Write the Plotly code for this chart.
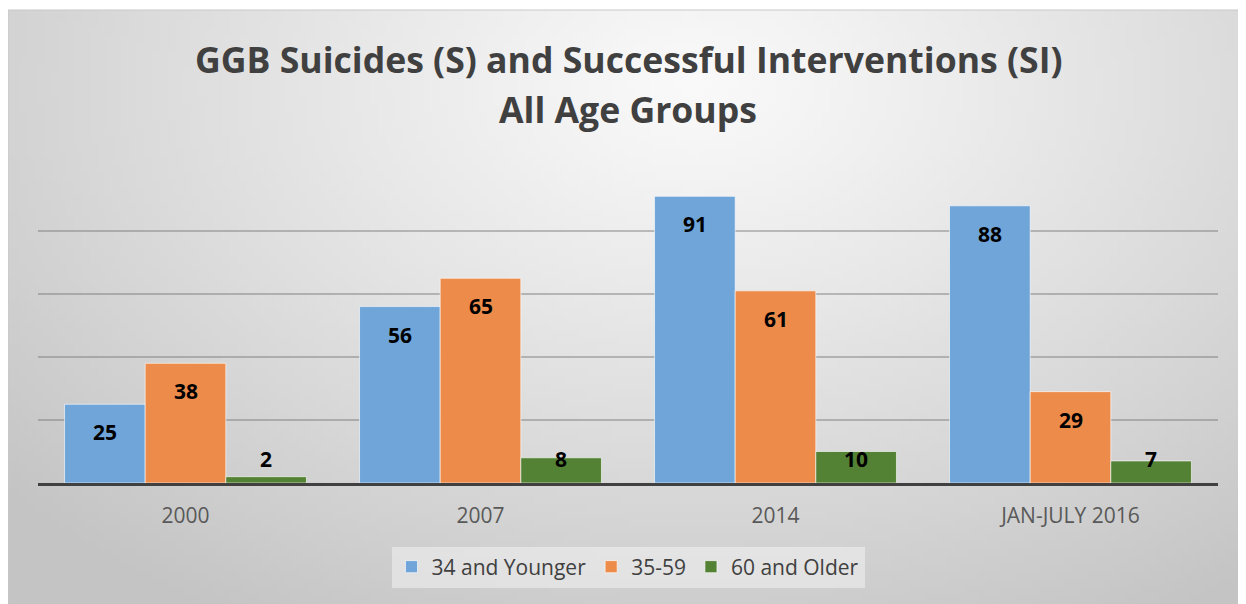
import base64, struct, zlib
import numpy as np
import plotly.graph_objects as go

# ---------------- data ----------------
categories = ["2000", "2007", "2014", "JAN-JULY 2016"]
series_names = ["34 and Younger", "35-59", "60 and Older"]
young = [25, 56, 91, 88]
middle = [38, 65, 61, 29]
older = [2, 8, 10, 7]
series_values = [young, middle, older]

# ---------------- style ----------------
W, H = 1246, 604
OFF = 8                                   # page offset of the figure (body margin)
colors = ["#6fa5d8", "#ed8b4b", "#548235"]
PL, PR, PT, PB = 38 - OFF, 1218 - OFF, 168 - OFF, 483 - OFF   # plot area (figure px)
BARGAP = 0.18


def gradient_png(w=160, h=80):
    xs = np.linspace(0, 1, w)
    ys = np.linspace(0, 1, h)
    X, Y = np.meshgrid(xs, ys)
    d = np.sqrt(((X - 0.55) / 0.75) ** 2 + ((Y - 0.12) / 1.05) ** 2)
    d = np.clip(d, 0, 1)
    v = 250 - (250 - 196) * d ** 1.1
    img = v.astype(np.uint8)
    raw = b"".join(b"\x00" + img[r].tobytes() for r in range(h))

    def chunk(t, data):
        c = struct.pack(">I", len(data)) + t + data
        return c + struct.pack(">I", zlib.crc32(t + data) & 0xFFFFFFFF)

    png = b"\x89PNG\r\n\x1a\n" + chunk(b"IHDR", struct.pack(">IIBBBBB", w, h, 8, 0, 0, 0, 0))
    png += chunk(b"IDAT", zlib.compress(raw, 9)) + chunk(b"IEND", b"")
    return "data:image/png;base64," + base64.b64encode(png).decode()


def px2paper_x(px):
    return (px - PL) / (PR - PL)


def px2paper_y(py):
    return (PB - py) / (PB - PT)


fig = go.Figure()
for name, vals, col in zip(series_names, series_values, colors):
    fig.add_trace(go.Bar(
        name=name, x=categories, y=vals,
        marker=dict(color=col, line=dict(color="rgba(255,255,255,0.6)", width=1)),
        hoverinfo="x+y+name",
    ))

# data labels
bw = (1 - BARGAP) / len(series_names)
label_font = dict(family="Open Sans", size=21, color="#000000", weight="bold")
annotations = []
for si, vals in enumerate(series_values):
    off = (si - (len(series_names) - 1) / 2) * bw
    for ci, v in enumerate(vals):
        if si < 2:
            annotations.append(dict(x=ci + off, y=v, yshift=-28, text=str(v),
                                    xref="x", yref="y", showarrow=False, font=label_font))
        else:
            annotations.append(dict(x=ci + off, y=0, yshift=24, text=str(v),
                                    xref="x", yref="y", showarrow=False, font=label_font))

# title lines
title_font = dict(family="Open Sans", size=35.6, color="#404040")
annotations.append(dict(x=0.5, xref="paper", y=px2paper_y(59 - OFF), yref="paper", yanchor="middle",
                        showarrow=False,
                        text="<b>GGB Suicides (S) and Successful Interventions (SI)</b>",
                        font=title_font))
annotations.append(dict(x=0.5, xref="paper", y=px2paper_y(109 - OFF), yref="paper", yanchor="middle",
                        showarrow=False, text="<b>All Age Groups</b>", font=title_font))

fig.update_layout(
    width=W, height=H,
    margin=dict(l=PL, r=W - PR, t=PT, b=H - PB),
    paper_bgcolor="white",
    plot_bgcolor="rgba(0,0,0,0)",
    barmode="group", bargap=BARGAP, bargroupgap=0,
    showlegend=True,
    legend=dict(orientation="h", x=px2paper_x(628 - OFF), xanchor="center",
                y=px2paper_y(567 - OFF), yanchor="middle",
                bgcolor="rgba(242,242,242,0.55)", borderwidth=0,
                font=dict(family="Open Sans", size=21, color="#404040"),
                itemwidth=30, tracegroupgap=0),
    xaxis=dict(showgrid=False, showline=True, linecolor="#404040", linewidth=3,
               ticks="outside", ticklen=12, tickcolor="rgba(0,0,0,0)",
               tickfont=dict(family="Open Sans", size=21, color="#595959")),
    yaxis=dict(range=[0, 100], showgrid=True, gridcolor="rgba(120,120,120,0.45)", gridwidth=1.5,
               tickvals=[20, 40, 60, 80, 100], showticklabels=False, zeroline=False,
               layer="above traces"),
    annotations=annotations,
    images=[dict(source=gradient_png(), xref="paper", yref="paper",
                 x=px2paper_x(0), y=px2paper_y(2),
                 sizex=px2paper_x(W) - px2paper_x(0), sizey=px2paper_y(2) - px2paper_y(H),
                 sizing="stretch", layer="below", xanchor="left", yanchor="top")],
    shapes=[dict(type="rect", xref="paper", yref="paper",
                 x0=px2paper_x(0), x1=px2paper_x(W + 2), y0=px2paper_y(H + 2), y1=px2paper_y(2),
                 line=dict(color="#c8c8c8", width=1), fillcolor="rgba(0,0,0,0)", layer="below")],
)

fig.write_html("out.html")
